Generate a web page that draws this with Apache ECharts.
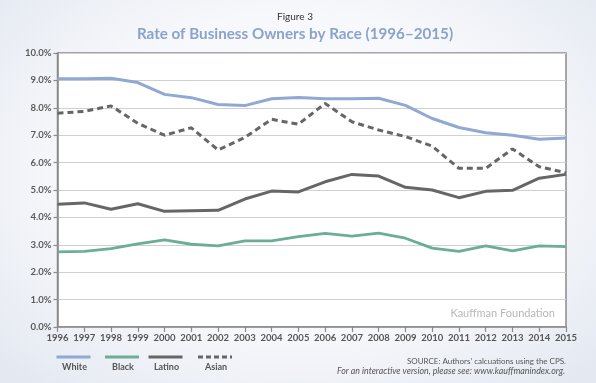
<!DOCTYPE html>
<html>
<head>
<meta charset="utf-8">
<script src="https://cdn.jsdelivr.net/npm/echarts@6/dist/echarts.min.js"></script>
<style>
html,body{margin:0;padding:0;width:596px;height:383px;overflow:hidden;}
body{background:radial-gradient(ellipse 70% 75% at 50% 45%, #ffffff 0%, #f7f8fb 55%, #e3e8f1 100%);}
#c{width:596px;height:383px;}
</style>
</head>
<body>
<div id="c"></div>
<script>
var years = ['1996','1997','1998','1999','2000','2001','2002','2003','2004','2005','2006','2007','2008','2009','2010','2011','2012','2013','2014','2015'];
var white  = [9.06,9.06,9.08,8.92,8.49,8.37,8.12,8.08,8.33,8.38,8.33,8.33,8.35,8.09,7.61,7.28,7.09,7.00,6.85,6.90];
var black  = [2.74,2.76,2.86,3.03,3.18,3.02,2.96,3.14,3.14,3.30,3.42,3.32,3.43,3.24,2.88,2.76,2.96,2.78,2.96,2.93];
var latino = [4.48,4.53,4.30,4.50,4.22,4.24,4.26,4.67,4.96,4.93,5.30,5.57,5.51,5.10,5.00,4.72,4.95,4.99,5.43,5.57];
var asian  = [7.80,7.87,8.07,7.43,7.00,7.27,6.46,6.92,7.58,7.40,8.16,7.49,7.19,6.95,6.60,5.79,5.79,6.50,5.85,5.63];
var yTicks = [0,1,2,3,4,5,6,7,8,9,10];

var C_WHITE = '#8fa9d3', C_BLACK = '#6aae95', C_LATINO = '#666666', C_ASIAN = '#666666';
var FONT = 'Lato, "Open Sans", sans-serif';

var chart = echarts.init(document.getElementById('c'), null, {renderer:'canvas'});

function legendItem(x, color, label, dashed){
  return [
    {type:'line', shape:{x1:x-17, y1:357, x2:x+17, y2:357}, style:{stroke:color, lineWidth:3, lineDash: dashed ? [5,3] : null}},
    {type:'text', style:{x:x+1, y:367.5, text:label, fill:'#555', font:'bold 9px ' + FONT, textAlign:'center', textVerticalAlign:'middle'}}
  ];
}

var option = {
  backgroundColor: 'transparent',
  animation: false,
  grid: {left:57.5, right:30, top:53, bottom:56, show:true, backgroundColor:'#ffffff', borderColor:'#8a8a8a', borderWidth:1.5},
  xAxis: {
    type:'category', data: years, boundaryGap:false,
    axisLine:{show:true, lineStyle:{color:'#8a8a8a', width:1.5}},
    axisTick:{show:true, inside:false, length:5, lineStyle:{color:'#8a8a8a', width:1.2}},
    axisLabel:{color:'#555', fontSize:9.5, fontWeight:'bold', fontFamily:FONT, margin:6, interval:0},
    splitLine:{show:false}
  },
  yAxis: {
    type:'value', min:0, max:10, interval:1,
    axisLine:{show:true, lineStyle:{color:'#8a8a8a', width:1.5}},
    axisTick:{show:true, inside:false, length:4, lineStyle:{color:'#8a8a8a', width:1.2}},
    axisLabel:{color:'#5a5a5a', fontSize:9.5, fontWeight:'bold', fontFamily:FONT, margin:6,
      formatter:function(v){return v.toFixed(1)+'%';}},
    splitLine:{show:true, lineStyle:{color:'#d0d0d0', width:1}}
  },
  series: [
    {name:'White', type:'line', data:white, symbol:'none', lineStyle:{color:C_WHITE, width:3}},
    {name:'Black', type:'line', data:black, symbol:'none', lineStyle:{color:C_BLACK, width:2.8}},
    {name:'Latino', type:'line', data:latino, symbol:'none', lineStyle:{color:C_LATINO, width:3}},
    {name:'Asian', type:'line', data:asian, symbol:'none', lineStyle:{color:C_ASIAN, width:3, type:[6,4]}}
  ],
  graphic: [
    {type:'text', style:{x:295, y:17, text:'Figure 3', fill:'#333', font:'10px ' + FONT, textAlign:'center', textVerticalAlign:'middle'}},
    {type:'text', style:{x:295, y:34.5, text:'Rate of Business Owners by Race (1996\u20132015)', fill:'#8aa3cc', font:'bold 15.2px ' + FONT, textAlign:'center', textVerticalAlign:'middle'}},
    {type:'text', style:{x:555, y:313, text:'Kauffman Foundation', fill:'#b8b8b8', font:'11px ' + FONT, textAlign:'right', textVerticalAlign:'middle'}},
    {type:'text', style:{x:566, y:361.5, text:'SOURCE: Authors\u2019 calcuations using the CPS.', fill:'#555', font:'8px ' + FONT, textAlign:'right', textVerticalAlign:'middle'}},
    {type:'text', style:{x:565, y:371.5, text:'For an interactive version, please see: www.kauffmanindex.org.', fill:'#555', font:'italic 8.8px ' + FONT, textAlign:'right', textVerticalAlign:'middle'}}
  ].concat(legendItem(73.5, C_WHITE, 'White', false))
   .concat(legendItem(122, C_BLACK, 'Black', false))
   .concat(legendItem(165.5, C_LATINO, 'Latino', false))
   .concat(legendItem(215, C_ASIAN, 'Asian', true))
};
chart.setOption(option);
</script>
</body>
</html>
